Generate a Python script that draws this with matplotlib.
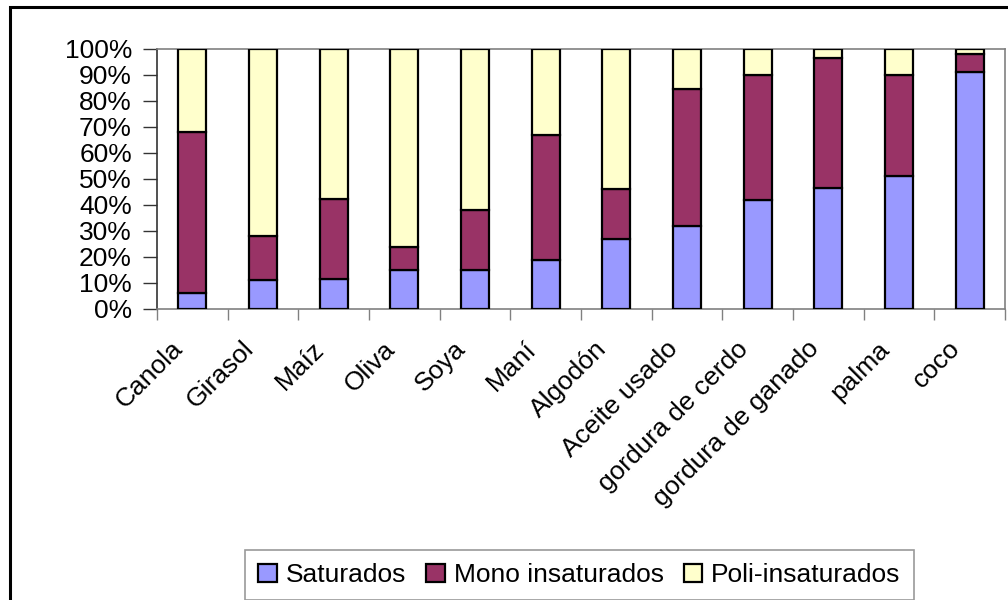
import numpy as np
from matplotlib import pyplot as plt
from matplotlib.patches import Rectangle
from matplotlib.transforms import ScaledTranslation

plt.rcParams['font.family'] = ['Liberation Sans', 'DejaVu Sans']

aceites = ['Canola', 'Girasol', 'Maíz', 'Oliva', 'Soya', 'Maní', 'Algodón',
           'Aceite usado', 'gordura de cerdo', 'gordura de ganado', 'palma', 'coco']
saturados = [6, 11, 11.5, 15, 15, 19, 27, 32, 42, 46.5, 51, 91]
mono = [62, 17, 31, 9, 23, 48, 19, 52.5, 48, 50, 39, 7]
poli = [32, 72, 57.5, 76, 62, 33, 54, 15.5, 10, 3.5, 10, 2]

colores = ['#9999FF', '#993366', '#FFFFCC']
nombres = ['Saturados', 'Mono insaturados', 'Poli-insaturados']

fig = plt.figure(figsize=(10.08, 6.0), dpi=100)
ax = fig.add_axes([157 / 1008, 1 - 309 / 600, 848 / 1008, 260 / 600])

x = np.arange(len(aceites))
base = np.zeros(len(aceites))
for valores, color, nombre in zip([saturados, mono, poli], colores, nombres):
    ax.bar(x, valores, bottom=base, width=0.4, color=color,
           edgecolor='black', linewidth=1.6, label=nombre, zorder=3)
    base += np.array(valores)

ax.set_xlim(-0.5, len(aceites) - 0.5)
ax.set_ylim(0, 100)
ax.set_yticks(np.arange(0, 101, 10))
ax.set_yticklabels(['{}%'.format(v) for v in range(0, 101, 10)], fontsize=19)
ax.tick_params(axis='y', direction='out', length=10, width=1, pad=8, color='#333333')

ax.set_xticks(x)
ax.set_xticklabels(aceites, fontsize=19, rotation=45, ha='right',
                   va='center', rotation_mode='anchor')
ax.tick_params(axis='x', which='major', length=0, pad=26)
# correr las etiquetas un poco a la izquierda
desplazamiento = ScaledTranslation(-13 / 100, 0, fig.dpi_scale_trans)
for etiqueta in ax.get_xticklabels():
    etiqueta.set_transform(etiqueta.get_transform() + desplazamiento)
ax.set_xticks(np.arange(len(aceites) + 1) - 0.5, minor=True)
ax.tick_params(axis='x', which='minor', direction='out', length=8, width=1, color='#808080')

for lado in ['top', 'right', 'bottom']:
    ax.spines[lado].set_color('#808080')
    ax.spines[lado].set_linewidth(1.2)
ax.spines['left'].set_color('#333333')
ax.spines['left'].set_linewidth(1.2)

# marco exterior del gráfico
fig.patches.append(Rectangle((10 / 1008, -0.05), 1.1, 1 - 7 / 600 + 0.05,
                             transform=fig.transFigure, fill=False,
                             edgecolor='black', linewidth=2.2))

leg = fig.legend(loc='upper left', bbox_to_anchor=(245 / 1008, 1 - 550 / 600),
                 ncol=3, fontsize=19, frameon=True, fancybox=False,
                 edgecolor='#808080', handlelength=0.7, handleheight=0.7,
                 handletextpad=0.35, columnspacing=0.75, borderpad=0.5,
                 borderaxespad=0)
leg.get_frame().set_linewidth(1.2)

fig.savefig('out.png', dpi=100)
